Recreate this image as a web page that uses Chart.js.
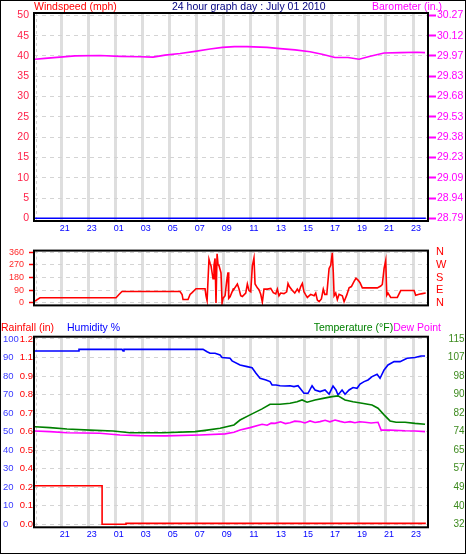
<!DOCTYPE html>
<html><head><meta charset="utf-8">
<script src="https://cdn.jsdelivr.net/npm/chart.js@4.4.0/dist/chart.umd.min.js"></script>
<style>
html,body{margin:0;padding:0;background:#fff;width:468px;height:559px;overflow:hidden;position:relative}
.p{position:absolute;left:0}
.t{position:absolute;white-space:nowrap;font-size:10.5px;line-height:12px;font-family:"Liberation Sans",Arial,sans-serif}
#frame{position:absolute;left:0;top:0;width:464px;height:552px;border:1px solid #000;pointer-events:none}
</style></head><body>
<div class="p" style="top:0"><canvas id="c1" width="468" height="240"></canvas></div>
<div class="p" style="top:236px"><canvas id="c2" width="468" height="84"></canvas></div>
<div class="p" style="top:318px"><canvas id="c3" width="468" height="241"></canvas></div>
<div class="t" style="left:34px;top:0;color:#ff0000">Windspeed (mph)</div>
<div class="t" style="left:172px;top:0;color:#000080">24 hour graph day : July 01 2010</div>
<div class="t" style="left:372px;top:0;color:#ff00ff">Barometer (in.)</div>
<div class="t" style="left:1px;top:321px;color:#ff0000">Rainfall (in)</div>
<div class="t" style="left:67px;top:321px;color:#0000ff">Humidity %</div>
<div class="t" style="right:27px;top:321px"><span style="color:#008000">Temperature (°F)</span><span style="color:#ff00ff">Dew Point</span></div>
<div id="frame"></div>
<script>
// ---------------- DATA ----------------
const hourTickValues = [21,23,25,27,29,31,33,35,37,39,41,43,45,47];

const windHours  = [19.02, 25.0, 31.0, 37.0, 43.0, 47.95];
const windSpeed  = [0, 0, 0, 0, 0, 0];

const baroHours  = [19.02,19.76,20.87,21.98,23.83,25.32,26.80,27.76,28.65,29.76,30.87,31.98,32.90,33.79,34.72,36.20,37.16,38.27,39.38,40.27,41.23,42.19,43.01,43.83,44.86,46.04,47.30,47.89];
const baroValues = [29.950,29.956,29.965,29.974,29.977,29.971,29.968,29.965,29.980,29.992,30.007,30.024,30.036,30.042,30.042,30.036,30.027,30.018,30.004,29.986,29.962,29.962,29.950,29.971,29.995,29.998,30.001,29.998];

const dirHours  = [19.02,19.39,25.02,25.24,25.46,29.76,29.91,29.98,30.35,30.50,30.65,30.94,31.61,31.68,31.76,31.90,31.98,32.05,32.20,32.27,32.35,32.42,32.50,32.57,32.64,32.79,32.87,32.94,33.01,33.09,33.21,33.31,33.36,33.46,33.70,33.75,34.00,34.12,34.25,34.37,34.62,34.74,34.86,34.99,35.11,35.23,35.31,35.48,35.60,35.73,35.85,35.97,36.22,36.47,36.66,36.84,36.96,37.08,37.21,37.45,37.65,37.75,37.85,38.07,38.25,38.44,38.56,38.69,38.81,38.93,39.06,39.18,39.43,39.68,39.80,39.92,40.05,40.22,40.36,40.47,40.62,40.79,40.91,41.03,41.10,41.16,41.28,41.40,41.53,41.77,41.90,42.10,42.27,42.44,42.64,42.78,42.93,43.08,43.25,44.36,44.61,44.73,44.86,44.98,45.06,45.15,45.35,45.84,46.09,47.08,47.20,47.45,47.69,47.94];
const dirValues = [13,37,37,60,81,81,60,24,24,60,73,101,101,51,17,309,281,264,171,265,315,0,348,272,265,213,0,33,33,51,154,217,33,44,99,98,134,101,51,46,70,134,88,79,263,318,134,107,94,61,6,98,98,103,73,64,98,51,70,66,79,138,116,88,70,98,79,116,138,79,57,39,61,51,70,20,9,28,98,61,61,245,267,355,217,51,70,24,61,51,9,57,107,116,153,175,162,143,107,107,120,131,245,300,55,70,39,39,88,88,55,61,66,70];
const dirTickValues = [0,90,180,270,360];
const dirCompass    = ['N','E','S','W','N'];

const humHours  = [19.02,22.21,22.28,25.46,25.54,25.61,31.46,31.76,31.98,32.35,32.72,32.87,33.46,33.61,34.20,34.72,35.09,35.38,35.68,36.12,36.42,36.57,36.86,37.16,37.53,37.90,38.19,38.49,38.64,38.93,39.23,39.53,39.75,40.12,40.49,40.79,41.08,41.30,41.45,41.75,41.97,42.27,42.56,42.86,43.08,43.38,43.67,43.97,44.34,44.56,44.86,45.15,45.60,46.04,46.56,47.15,47.59,47.89];
const humValues = [93.5,93.5,94.4,94.4,93.5,94.4,94.4,93.1,92.3,92.3,91.4,90.0,89.6,88.2,86.0,85.1,84.5,81.5,78.8,77.9,77.0,75.2,75.2,74.8,74.6,74.8,74.3,74.8,73.4,70.7,70.7,74.8,72.5,71.6,72.5,70.2,74.6,72.5,69.8,72.5,70.2,72.5,73.8,73.4,75.7,77.0,77.9,79.7,81.0,78.8,83.3,86.0,87.8,87.8,89.6,90.0,90.8,90.8];

const tempHours  = [19.02,20.13,21.39,23.09,24.80,26.06,28.50,30.87,31.76,32.72,33.75,34.20,34.94,35.83,36.42,37.16,37.90,38.42,38.79,39.16,39.75,40.34,41.01,41.45,41.97,42.56,43.23,43.97,44.41,44.86,45.30,45.75,46.41,47.15,47.89];
const tempValues = [75.7,75.3,74.7,74.2,73.8,73.0,73.0,73.5,74.2,75.0,76.5,78.7,81.0,83.7,85.8,85.8,86.2,86.9,87.7,86.7,87.7,88.4,89.2,89.5,87.7,86.9,86.2,85.4,84.0,81.0,78.3,77.7,77.7,77.2,76.8];

const dewHours  = [19.02,20.13,21.39,23.83,25.32,26.80,28.65,31.24,33.09,33.75,34.20,34.94,35.83,36.20,36.50,36.79,37.20,37.55,37.90,38.25,38.64,39.00,39.38,39.75,40.12,40.50,40.85,41.23,41.60,41.95,42.34,42.70,43.05,43.45,43.90,44.41,44.64,45.30,46.41,47.15,47.89];
const dewValues = [73.8,73.5,73.0,72.8,72.0,71.7,71.6,72.0,72.5,73.2,74.2,75.3,76.8,76.4,77.3,77.2,77.9,77.1,77.5,78.2,78.0,77.4,78.3,77.6,78.0,78.6,77.9,78.7,78.1,77.6,78.0,77.5,77.9,77.7,77.4,77.7,74.2,74.2,73.9,73.8,73.5];

const rainHours  = [19.02,23.99,25.76,47.95];
const rainValues = [0.25,0.0,0.006,0.006];

const wsTickValues   = [0,5,10,15,20,25,30,35,40,45,50];
const baroTickValues = [28.79,28.938,29.086,29.234,29.382,29.53,29.678,29.826,29.974,30.122,30.27];
const baroTickLabels = ['28.79','28.94','29.09','29.23','29.38','29.53','29.68','29.83','29.97','30.12','30.27'];
const humTickValues  = [0,10,20,30,40,50,60,70,80,90,100];
const rainTickValues = [0,0.12,0.24,0.36,0.48,0.6,0.72,0.84,0.96,1.08,1.2];
const rainTickLabels = ['0.0','0.1','0.2','0.4','0.5','0.6','0.7','0.8','0.9','1.1','1.2'];
const tempTickValues = [32,40.3,48.6,56.9,65.2,73.5,81.8,90.1,98.4,106.7,115];
const tempTickLabels = ['32','40','49','57','65','74','82','90','98','107','115'];

// ---------------- HELPERS ----------------
const F = '"Liberation Sans", Arial, sans-serif';
const pts = (xs, ys) => xs.map((x,i)=>({x, y: ys[i]}));
const setTicks = vals => s => { s.ticks = vals.map(v=>({value:v})); };
const X_MIN = 18.95, X_MAX = 48.11;

function xScale(show, h){
  return { type:'linear', min:X_MIN, max:X_MAX,
    afterBuildTicks: setTicks(hourTickValues),
    afterFit: s => { s.height = h; },
    grid:{ color:'#dedede', lineWidth:3, drawTicks:false },
    border:{ display:false },
    ticks:{ display:show, color:'#0000ff', font:{family:F,size:9}, padding:2, labelOffset:3,
      maxRotation:0, autoSkip:false, callback: v => String(v%24).padStart(2,'0') } };
}
const boxPlugin = { id:'box',
  beforeDatasetsDraw(chart){
    const {ctx, chartArea:a} = chart;
    ctx.save(); ctx.strokeStyle='#cfcfcf'; ctx.lineWidth=1; ctx.setLineDash([3,3]);
    ctx.beginPath(); ctx.moveTo(a.left+2.5, a.top); ctx.lineTo(a.left+2.5, a.bottom); ctx.stroke(); ctx.restore();
  },
  afterDraw(chart){
    const {ctx, chartArea:a} = chart;
    ctx.save(); ctx.strokeStyle='#000'; ctx.lineWidth=2;
    ctx.strokeRect(a.left, a.top, a.right-a.left, a.bottom-a.top); ctx.restore();
  } };
const common = { responsive:false, animation:false, events:[],
  plugins:{ legend:{display:false}, tooltip:{enabled:false} },
  elements:{ point:{radius:0}, line:{borderWidth:1.6, tension:0} } };

// ---------------- PANEL 1 ----------------
new Chart(document.getElementById('c1'), {
  type:'line',
  data:{ datasets:[
    { data: pts(windHours, windSpeed), borderColor:'#0000ff', yAxisID:'y' },
    { data: pts(baroHours, baroValues), borderColor:'#ff00ff', yAxisID:'y2' }
  ]},
  options:{ ...common, layout:{padding:{top:13,left:0,right:0,bottom:0}},
    scales:{
      x: xScale(true, 19),
      y: { position:'left', min:-0.66, max:50.57, afterBuildTicks:setTicks(wsTickValues),
        afterFit: s=>{ s.width=34; },
        grid:{ color:'#d4d4d4', drawTicks:false }, border:{ display:false, dash:[4,4] },
        ticks:{ autoSkip:false, color:'#ff1e46', font:{family:F,size:10.5}, padding:5 } },
      y2:{ position:'right', min:28.7705, max:30.2869, afterBuildTicks:setTicks(baroTickValues),
        afterFit: s=>{ s.width=40; },
        grid:{ drawOnChartArea:false, drawTicks:true, tickLength:8, tickColor:'#ff00ff', tickWidth:2 },
        border:{ display:false },
        ticks:{ autoSkip:false, color:'#ff00ff', font:{family:F,size:10.5}, padding:1, callback:(v,i)=>baroTickLabels[i] } }
    } },
  plugins:[boxPlugin]
});

// ---------------- PANEL 2 ----------------
new Chart(document.getElementById('c2'), {
  type:'line',
  data:{ datasets:[ { data: pts(dirHours, dirValues), borderColor:'#ff0000', yAxisID:'y' } ]},
  options:{ ...common, layout:{padding:{top:7,left:0,right:0,bottom:0}},
    scales:{
      x: xScale(false, 5.5),
      y: { position:'left', min:-17.4, max:370.9, afterBuildTicks:setTicks(dirTickValues),
        afterFit: s=>{ s.width=34; },
        grid:{ color:'#d4d4d4', drawTicks:true, tickLength:5, tickColor:'#ff0000', tickWidth:1.5 },
        border:{ display:false, dash:[4,4] },
        ticks:{ autoSkip:false, color:'#ff2a2a', font:{family:F,size:9}, padding:5 } },
      y2:{ position:'right', min:-17.4, max:370.9, afterBuildTicks:setTicks(dirTickValues),
        afterFit: s=>{ s.width=40; },
        grid:{ drawOnChartArea:false, drawTicks:false }, border:{ display:false },
        ticks:{ autoSkip:false, color:'#ff0000', font:{family:F,size:11}, padding:8, callback:(v,i)=>dirCompass[i] } }
    } },
  plugins:[boxPlugin]
});

// ---------------- PANEL 3 ----------------
new Chart(document.getElementById('c3'), {
  type:'line',
  data:{ datasets:[
    { data: pts(rainHours, rainValues), borderColor:'#ff0000', yAxisID:'yRain', stepped:true },
    { data: pts(tempHours, tempValues), borderColor:'#008000', yAxisID:'yTemp' },
    { data: pts(dewHours, dewValues), borderColor:'#ff00ff', yAxisID:'yTemp' },
    { data: pts(humHours, humValues), borderColor:'#0000ff', yAxisID:'yHum' }
  ]},
  options:{ ...common, layout:{padding:{top:18.7,left:3,right:3.5,bottom:0}},
    scales:{
      x: xScale(true, 31.7),
      yHum:{ position:'left', weight:1, min:-1.62, max:101.24, afterBuildTicks:setTicks(humTickValues),
        afterFit: s=>{ s.width=16; },
        grid:{ color:'#d4d4d4', drawTicks:false }, border:{ display:false, dash:[4,4] },
        ticks:{ autoSkip:false, color:'#3a3aff', font:{family:F,size:9.5}, padding:0, crossAlign:'far' } },
      yRain:{ position:'left', weight:0, min:-0.01944, max:1.21488, afterBuildTicks:setTicks(rainTickValues),
        afterFit: s=>{ s.width=15; },
        grid:{ drawOnChartArea:false, drawTicks:false }, border:{ display:false },
        ticks:{ autoSkip:false, color:'#ff0000', font:{family:F,size:9.5}, padding:1, callback:(v,i)=>rainTickLabels[i] } },
      yTemp:{ position:'right', min:30.655, max:116.03, afterBuildTicks:setTicks(tempTickValues),
        afterFit: s=>{ s.width=36.5; },
        grid:{ drawOnChartArea:false, drawTicks:false }, border:{ display:false },
        ticks:{ autoSkip:false, color:'#3d8a1e', font:{family:F,size:10}, padding:0, crossAlign:'far', callback:(v,i)=>tempTickLabels[i] } }
    } },
  plugins:[boxPlugin]
});
</script>
</body></html>
